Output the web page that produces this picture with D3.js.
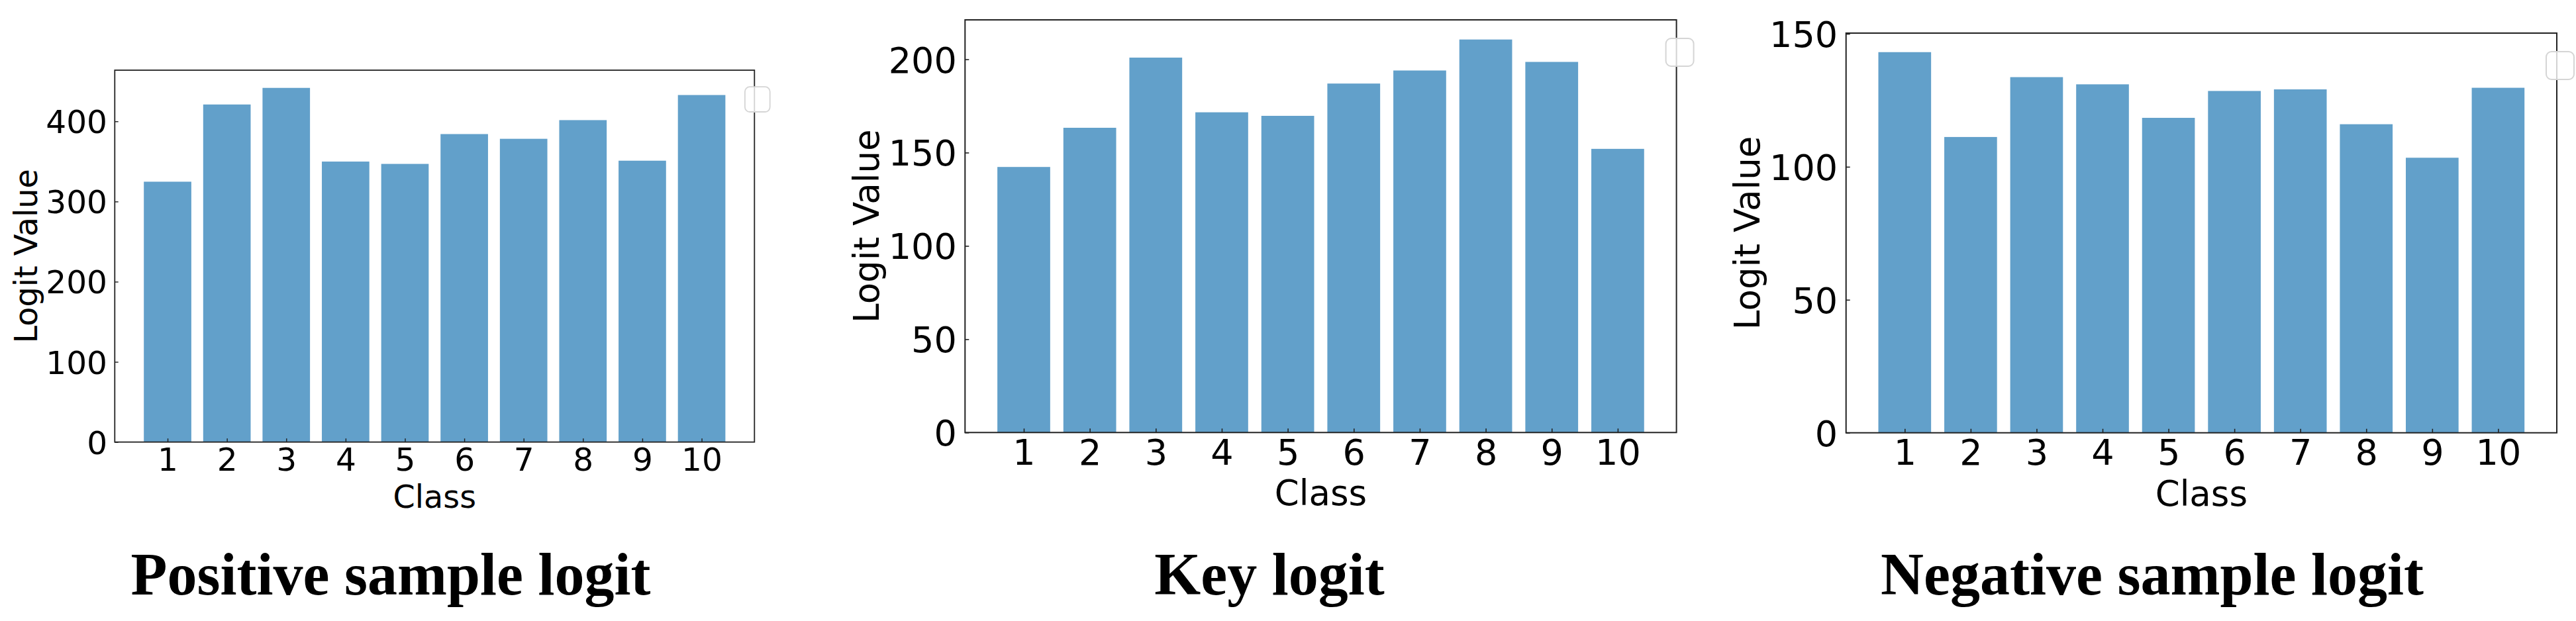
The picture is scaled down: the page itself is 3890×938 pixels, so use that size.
<!DOCTYPE html>
<html>
<head>
<meta charset="utf-8">
<script src="https://cdn.jsdelivr.net/npm/d3@7"></script>
<style>
  html, body { margin: 0; padding: 0; background: #fff; }
  svg { display: block; }
</style>
</head>
<body>
<svg id="chart" width="3890" height="938"></svg>
<script>
// values
const classes = ["1", "2", "3", "4", "5", "6", "7", "8", "9", "10"];
const positiveLogits = [324.7, 421.0, 441.7, 349.8, 346.9, 384.1, 378.2, 401.5, 350.9, 432.8];
const keyLogits = [142.3, 163.3, 200.9, 171.6, 169.7, 187.0, 194.0, 210.6, 198.6, 152.0];
const negativeLogits = [143.1, 111.2, 133.7, 131.0, 118.4, 128.5, 129.1, 116.0, 103.4, 129.7];
const positiveTicks = [0, 100, 200, 300, 400];
const keyTicks = [0, 50, 100, 150, 200];
const negativeTicks = [0, 50, 100, 150];
const titles = ["Positive sample logit", "Key logit", "Negative sample logit"];

const svg = d3.select("#chart");
const barColor = "#62a0ca";

// plot boxes in pixels; s = size scale of each sub-image
const panels = [
  { values: positiveLogits, ticks: positiveTicks, left: 173.3, right: 1139.3, top: 106, bottom: 667.7, s: 0.9, titleX: 590 },
  { values: keyLogits, ticks: keyTicks, left: 1457.3, right: 2531.6, top: 30, bottom: 653.3, s: 1, titleX: 1917 },
  { values: negativeLogits, ticks: negativeTicks, left: 2787.7, right: 3861, top: 50, bottom: 653.7, s: 1, titleX: 3250 }
];

panels.forEach((p, k) => {
  const s = p.s;
  const n = classes.length;
  // matplotlib-like limits: bar width 0.8, 5% margins
  const span = n - 1 + 0.8;
  const x = d3.scaleLinear()
    .domain([0.6 - 0.05 * span, n + 0.4 + 0.05 * span])
    .range([p.left, p.right]);
  const y = d3.scaleLinear()
    .domain([0, d3.max(p.values) * 1.05])
    .range([p.bottom, p.top]);

  const g = svg.append("g");

  g.selectAll("rect.bar")
    .data(p.values)
    .join("rect")
    .attr("class", "bar")
    .attr("x", (d, i) => x(i + 1 - 0.4))
    .attr("width", (d, i) => x(i + 1 + 0.4) - x(i + 1 - 0.4))
    .attr("y", d => y(d))
    .attr("height", d => y(0) - y(d))
    .attr("fill", barColor);

  const tickFont = 54 * s;
  const labelFont = 53 * s;

  const yAxis = g.append("g")
    .attr("transform", `translate(${p.left},0)`)
    .call(d3.axisLeft(y).tickValues(p.ticks).tickFormat(d3.format("d"))
      .tickSize(-6 * s).tickSizeOuter(0).tickPadding(12.5 * s));
  yAxis.select(".domain").remove();
  yAxis.selectAll("line").attr("stroke", "#222").attr("stroke-width", 1.6 * s);
  yAxis.selectAll("text")
    .attr("font-family", "DejaVu Sans")
    .attr("font-size", tickFont)
    .attr("fill", "#000")
    .attr("dy", "0.36em");

  const xAxis = g.append("g")
    .attr("transform", `translate(0,${p.bottom})`)
    .call(d3.axisBottom(x).tickValues(classes.map(Number)).tickFormat((d, i) => classes[i])
      .tickSize(-6 * s).tickSizeOuter(0).tickPadding(0));
  xAxis.select(".domain").remove();
  xAxis.selectAll("line").attr("stroke", "#222").attr("stroke-width", 1.6 * s);
  xAxis.selectAll("text")
    .attr("font-family", "DejaVu Sans")
    .attr("font-size", tickFont)
    .attr("fill", "#000")
    .attr("y", 48.4 * s)
    .attr("dy", null);

  // frame
  g.append("rect")
    .attr("x", p.left).attr("y", p.top)
    .attr("width", p.right - p.left).attr("height", p.bottom - p.top)
    .attr("fill", "none").attr("stroke", "#222").attr("stroke-width", 2 * s);

  // empty legend box
  g.append("rect")
    .attr("x", p.right - 16 * s).attr("y", p.top + 28 * s)
    .attr("width", 42 * s).attr("height", 42 * s)
    .attr("rx", 8 * s)
    .attr("fill", "rgba(255,255,255,0.8)")
    .attr("stroke", "#d5d5d5").attr("stroke-width", 2 * s);

  g.append("text")
    .attr("x", (p.left + p.right) / 2)
    .attr("y", p.bottom + 110 * s)
    .attr("text-anchor", "middle")
    .attr("font-family", "DejaVu Sans")
    .attr("font-size", labelFont)
    .text("Class");

  g.append("text")
    .attr("transform", `translate(${p.left - 130.6 * s},${(p.top + p.bottom) / 2}) rotate(-90)`)
    .attr("text-anchor", "middle")
    .attr("font-family", "DejaVu Sans")
    .attr("font-size", labelFont)
    .text("Logit Value");

  svg.append("text")
    .attr("x", p.titleX)
    .attr("y", 898)
    .attr("text-anchor", "middle")
    .attr("font-family", "Liberation Serif")
    .attr("font-weight", "bold")
    .attr("font-size", 90)
    .text(titles[k]);
});
</script>
</body>
</html>
